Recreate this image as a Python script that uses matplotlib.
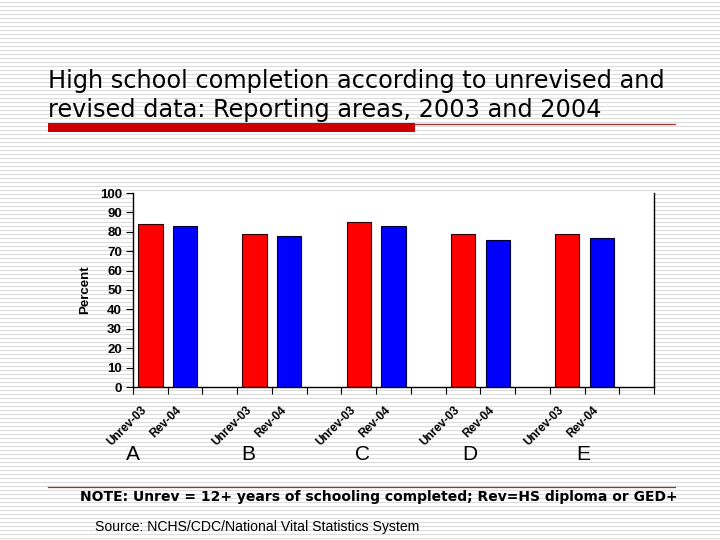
import matplotlib
matplotlib.use("Agg")
import matplotlib.pyplot as plt
import matplotlib.transforms as mtransforms
import numpy as np

# data
areas = ["A", "B", "C", "D", "E"]
unrev_03 = [84, 79, 85, 79, 79]
rev_04 = [83, 78, 83, 76, 77]
bar_labels = ["Unrev-03", "Rev-04"]
y_ticks = [0, 10, 20, 30, 40, 50, 60, 70, 80, 90, 100]

title_lines = ["High school completion according to unrevised and",
               "revised data: Reporting areas, 2003 and 2004"]
note = "NOTE: Unrev = 12+ years of schooling completed; Rev=HS diploma or GED+"
source = "Source: NCHS/CDC/National Vital Statistics System"

W, H = 720, 540
fig = plt.figure(figsize=(7.2, 5.4), dpi=100)


def fx(px):
    return px / W


def fy(py):
    return 1 - py / H


# striped slide background
bg = fig.add_axes([0, 0, 1, 1], zorder=-5)
bg.set_xlim(0, W)
bg.set_ylim(H, 0)
bg.axis("off")
for yy in np.arange(1.5, H, 4):
    bg.axhline(yy, color="#dcdcdc", lw=0.8, zorder=1)

# title and rules
for line, base in zip(title_lines, [88, 117]):
    fig.text(fx(48), fy(base), line, fontsize=17.25, family="DejaVu Sans",
             va="baseline", ha="left")
bg.add_patch(plt.Rectangle((48, 123), 367, 9, color="#cc0000", lw=0, zorder=5))
bg.plot([415, 675], [123.5, 123.5], color="#a03030", lw=0.9, zorder=5)
bg.plot([48, 675], [487, 487], color="#8b3a3a", lw=0.9, zorder=5)

# chart
ax = fig.add_axes([fx(133), fy(387), fx(654) - fx(133), (387 - 193) / H])
ax.set_facecolor("white")
n = len(areas)
x_unrev = np.arange(n) * 3 + 0.5
x_rev = np.arange(n) * 3 + 1.5
ax.bar(x_unrev, unrev_03, width=0.7, color="#ff0000", edgecolor="#300000", lw=0.8)
ax.bar(x_rev, rev_04, width=0.7, color="#0000ff", edgecolor="#000030", lw=0.8)
ax.set_xlim(0, 3 * n)
ax.set_ylim(0, 100)
ax.set_yticks(y_ticks)
ax.set_yticklabels([str(v) for v in y_ticks], fontsize=9.5, fontweight="bold",
                   family="Liberation Sans")
ax.set_xticks(np.arange(0, 3 * n + 1))
ax.set_xticklabels([])
ax.tick_params(axis="both", direction="out", length=5, width=0.8, color="black")
ax.tick_params(axis="y", pad=3)
for s in ["left", "bottom", "right"]:
    ax.spines[s].set_color("black")
    ax.spines[s].set_linewidth(1.0)
ax.spines["top"].set_visible(False)
ax.set_ylabel("Percent", fontsize=9.5, fontweight="bold", family="Liberation Sans",
              labelpad=6)

trans = mtransforms.blended_transform_factory(ax.transData, ax.transAxes)
for i in range(n):
    for xpos, lab in [(x_unrev[i], bar_labels[0]), (x_rev[i], bar_labels[1])]:
        ax.text(xpos - 0.15, -0.11, lab, transform=trans, rotation=45,
                rotation_mode="anchor", ha="right", va="center",
                fontsize=8.5, fontweight="bold", family="Liberation Sans")

letter_x = [133, 248, 362, 470, 583]
for lx, a in zip(letter_x, areas):
    fig.text(fx(lx), fy(455), a, fontsize=15, family="Liberation Sans",
             ha="center", va="center")

fig.text(fx(80), fy(497), note, fontsize=10, fontweight="bold",
         family="DejaVu Sans", ha="left", va="center")
fig.text(fx(95), fy(527), source, fontsize=10.1, family="Liberation Sans",
         ha="left", va="center")

fig.savefig("out.png", dpi=100)
